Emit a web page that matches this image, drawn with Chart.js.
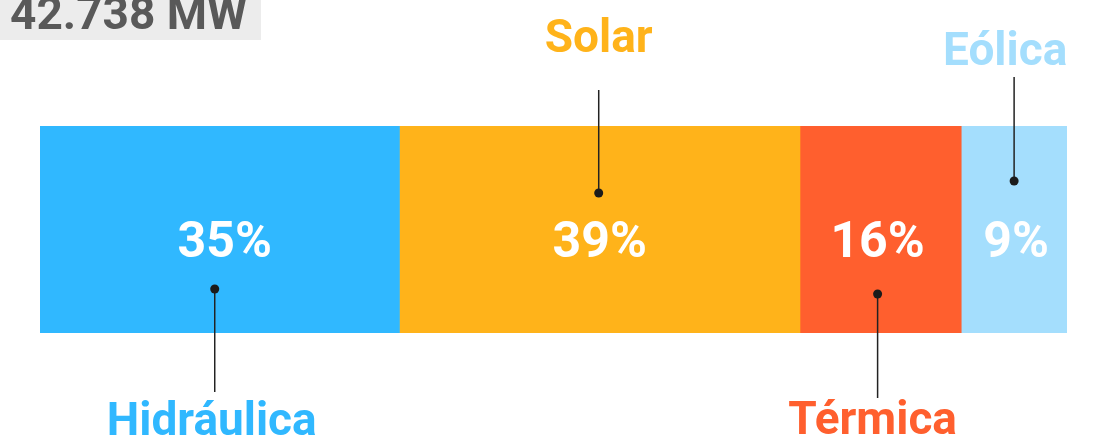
<!DOCTYPE html>
<html>
<head>
<meta charset="utf-8">
<script src="https://cdn.jsdelivr.net/npm/chart.js@4/dist/chart.umd.min.js"></script>
<style>
  html, body { margin: 0; padding: 0; background: #fff; }
  #wrap { width: 1094px; height: 442px; position: relative; }
</style>
</head>
<body>
<div id="wrap"><canvas id="mix"></canvas></div>
<script>
const title = '42.738 MW';
const sources = ['Hidráulica', 'Solar', 'Térmica', 'Eólica'];
const shares = [35, 39, 15.7, 10.3];
const shareLabels = ['35%', '39%', '16%', '9%'];
const colors = ['#30b8ff', '#ffb31a', '#ff5f2e', '#a4defd'];

// callout placement: label above or below the bar
const side = ['down', 'up', 'down', 'up'];
const pctShift = [5, 0, -3, 2];
const dotShift = [-5, -1, -3, 0];
const nameShift = [-8, -1, -8, -9];
const dotOffset = [44, 67, 39, 55];
const lineEnd = [392, 90, 398, 77];
const nameBase = [435, 52, 434, 65];

const FONT = 'Roboto, "Open Sans", sans-serif';

const calloutPlugin = {
    id: 'callouts',
    afterDatasetsDraw(chart) {
        let ctx = chart.ctx;
        ctx.save();
        chart.data.datasets.forEach(function(ds, i) {
            let bar = chart.getDatasetMeta(i).data[0];
            let left = Math.min(bar.x, bar.base), right = Math.max(bar.x, bar.base);
            let cx = (left + right) / 2;
            let top = bar.y - bar.height / 2, bottom = bar.y + bar.height / 2;

            // percentage in the middle
            ctx.fillStyle = '#fff';
            ctx.font = 'bold 50px ' + FONT;
            ctx.textAlign = 'center';
            ctx.textBaseline = 'alphabetic';
            ctx.fillText(shareLabels[i], cx + pctShift[i], bar.y + 27);

            // dot + line
            let dx = cx + dotShift[i];
            let dy = side[i] === 'up' ? top + dotOffset[i] : bottom - dotOffset[i];
            ctx.strokeStyle = '#222';
            ctx.lineWidth = 1.5;
            ctx.beginPath();
            ctx.moveTo(dx, dy);
            ctx.lineTo(dx, lineEnd[i]);
            ctx.stroke();
            ctx.fillStyle = '#1b1b1b';
            ctx.beginPath();
            ctx.arc(dx, dy, 4.5, 0, Math.PI * 2);
            ctx.fill();

            // source name
            ctx.fillStyle = colors[i];
            ctx.font = 'bold 46px ' + FONT;
            ctx.fillText(sources[i], cx + nameShift[i], nameBase[i]);
        });

        // total box, top left
        ctx.fillStyle = '#ececec';
        ctx.fillRect(0, 0, 261, 40);
        ctx.fillStyle = '#595959';
        ctx.font = 'bold 46px ' + FONT;
        ctx.textAlign = 'left';
        ctx.textBaseline = 'alphabetic';
        ctx.fillText(title, 10, 29);
        ctx.restore();
    }
};

new Chart(document.getElementById('mix'), {
    type: 'bar',
    data: {
        labels: ['Capacidade'],
        datasets: sources.map(function(s, i) {
            return {
                label: s,
                data: [shares[i]],
                backgroundColor: colors[i],
                borderWidth: 0,
                barPercentage: 1,
                categoryPercentage: 1
            };
        })
    },
    options: {
        indexAxis: 'y',
        responsive: true,
        maintainAspectRatio: false,
        animation: false,
        layout: { padding: { left: 40, right: 27, top: 126, bottom: 109 } },
        scales: {
            x: { stacked: true, min: 0, max: 100, display: false },
            y: { stacked: true, display: false }
        },
        plugins: {
            legend: { display: false },
            tooltip: { enabled: false }
        }
    },
    plugins: [calloutPlugin]
});
</script>
</body>
</html>
